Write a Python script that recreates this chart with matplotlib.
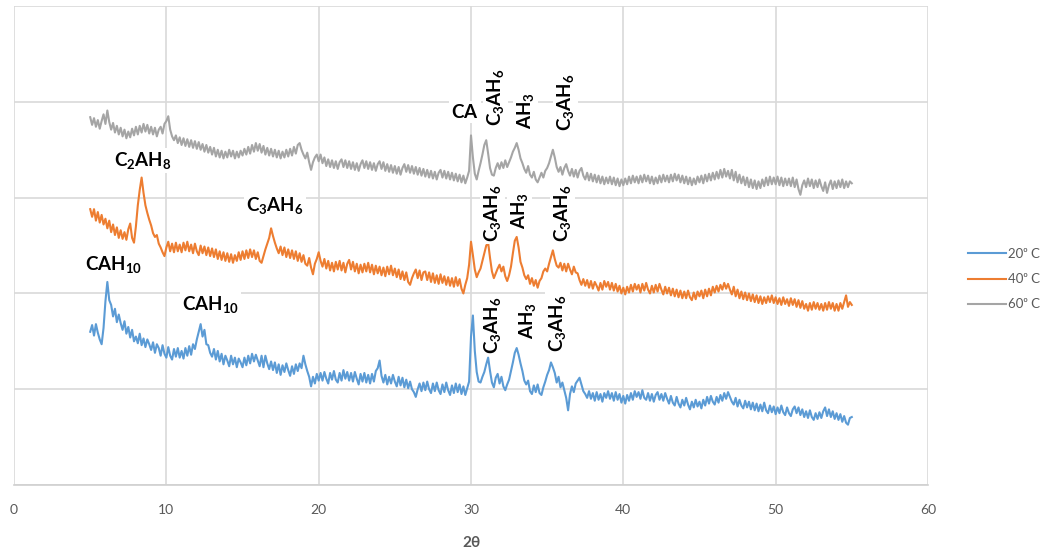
import numpy as np
import matplotlib
matplotlib.use("Agg")
import matplotlib.pyplot as plt

plt.rcParams['font.family'] = ['Lato', 'DejaVu Sans']
plt.rcParams['mathtext.fontset'] = 'custom'
plt.rcParams['mathtext.rm'] = 'Lato:bold'
plt.rcParams['mathtext.it'] = 'Lato:bold'
plt.rcParams['mathtext.bf'] = 'Lato:bold'
plt.rcParams['mathtext.default'] = 'rm'

# XRD scans, 5-55 deg 2theta, 0.125 deg step (16 points per row = 2 deg)
two_theta_start = 5.0
two_theta_end = 55.0

i_20C = [
    1.60, 1.67, 1.56, 1.68, 1.59, 1.52, 1.47, 1.64, 1.92, 2.12, 1.93, 1.88, 1.76, 1.84, 1.70, 1.78,
    1.69, 1.62, 1.71, 1.58, 1.65, 1.54, 1.62, 1.50, 1.55, 1.48, 1.58, 1.46, 1.53, 1.44, 1.52, 1.47,
    1.41, 1.49, 1.38, 1.47, 1.43, 1.35, 1.46, 1.37, 1.33, 1.44, 1.35, 1.31, 1.42, 1.34, 1.43, 1.33,
    1.40, 1.32, 1.43, 1.35, 1.45, 1.36, 1.47, 1.42, 1.52, 1.60, 1.68, 1.55, 1.62, 1.47, 1.46, 1.38,
    1.34, 1.42, 1.31, 1.40, 1.29, 1.37, 1.26, 1.35, 1.30, 1.24, 1.35, 1.26, 1.33, 1.23, 1.32, 1.28,
    1.23, 1.33, 1.25, 1.35, 1.27, 1.37, 1.29, 1.36, 1.30, 1.24, 1.35, 1.23, 1.35, 1.27, 1.21, 1.29,
    1.20, 1.28, 1.17, 1.26, 1.15, 1.25, 1.18, 1.27, 1.20, 1.14, 1.24, 1.16, 1.26, 1.19, 1.27, 1.22,
    1.35, 1.26, 1.19, 1.13, 1.03, 1.13, 1.06, 1.16, 1.09, 1.17, 1.09, 1.18, 1.11, 1.06, 1.17, 1.10,
    1.19, 1.10, 1.07, 1.17, 1.09, 1.20, 1.11, 1.18, 1.09, 1.17, 1.08, 1.18, 1.11, 1.05, 1.16, 1.08,
    1.17, 1.07, 1.15, 1.06, 1.16, 1.08, 1.19, 1.22, 1.30, 1.14, 1.07, 1.15, 1.05, 1.13, 1.06, 1.15,
    1.08, 1.03, 1.13, 1.04, 1.12, 1.02, 1.10, 1.01, 1.08, 1.00, 0.97, 0.92, 1.00, 1.06, 0.98, 1.07,
    0.99, 1.08, 1.00, 0.96, 1.06, 0.98, 1.07, 0.99, 0.95, 1.05, 0.97, 1.07, 0.99, 0.94, 1.04, 0.96,
    1.06, 0.97, 1.05, 0.95, 1.03, 0.94, 1.01, 1.08, 1.55, 1.77, 1.40, 1.18, 1.08, 1.07, 1.13, 1.18,
    1.26, 1.33, 1.19, 1.07, 1.02, 1.12, 1.16, 1.06, 1.13, 1.03, 0.99, 1.05, 1.10, 1.19, 1.28, 1.38,
    1.43, 1.36, 1.27, 1.19, 1.09, 1.05, 1.09, 0.98, 0.95, 1.04, 0.97, 1.05, 0.96, 0.94, 1.02, 1.08,
    1.15, 1.20, 1.28, 1.23, 1.17, 1.07, 1.13, 1.02, 1.07, 0.99, 0.91, 0.78, 0.95, 1.03, 0.97, 1.06,
    1.09, 1.12, 1.05, 0.98, 0.95, 0.91, 0.98, 0.90, 0.96, 0.88, 0.97, 0.89, 0.95, 0.87, 0.96, 0.91,
    0.98, 0.90, 0.96, 0.88, 0.97, 0.89, 0.95, 0.86, 0.93, 0.85, 0.94, 0.88, 0.96, 0.89, 0.98, 0.92,
    0.97, 0.90, 0.99, 0.91, 0.89, 0.96, 0.88, 0.95, 0.87, 0.94, 0.97, 0.89, 0.95, 0.88, 0.96, 0.90,
    0.85, 0.93, 0.86, 0.83, 0.92, 0.85, 0.81, 0.89, 0.83, 0.91, 0.84, 0.79, 0.87, 0.81, 0.89, 0.82,
    0.87, 0.80, 0.89, 0.83, 0.92, 0.85, 0.93, 0.87, 0.84, 0.92, 0.86, 0.94, 0.88, 0.96, 0.90, 0.97,
    0.92, 0.87, 0.84, 0.91, 0.82, 0.89, 0.83, 0.80, 0.88, 0.81, 0.87, 0.79, 0.86, 0.78, 0.85, 0.77,
    0.84, 0.77, 0.86, 0.78, 0.75, 0.83, 0.76, 0.82, 0.74, 0.81, 0.75, 0.83, 0.76, 0.73, 0.81, 0.75,
    0.72, 0.79, 0.82, 0.75, 0.81, 0.73, 0.79, 0.71, 0.77, 0.70, 0.78, 0.71, 0.68, 0.75, 0.69, 0.76,
    0.70, 0.77, 0.81, 0.72, 0.79, 0.71, 0.77, 0.69, 0.75, 0.68, 0.74, 0.66, 0.72, 0.65, 0.63, 0.70,
    0.71,
]

i_40C = [
    2.88, 2.80, 2.88, 2.76, 2.85, 2.74, 2.82, 2.72, 2.78, 2.68, 2.76, 2.64, 2.72, 2.61, 2.69, 2.58,
    2.66, 2.57, 2.64, 2.56, 2.67, 2.73, 2.58, 2.53, 2.70, 2.92, 3.08, 3.21, 3.05, 2.92, 2.84, 2.77,
    2.71, 2.63, 2.59, 2.61, 2.52, 2.48, 2.43, 2.39, 2.48, 2.54, 2.44, 2.52, 2.43, 2.53, 2.44, 2.51,
    2.43, 2.53, 2.45, 2.54, 2.44, 2.51, 2.42, 2.52, 2.44, 2.40, 2.50, 2.42, 2.49, 2.40, 2.48, 2.39,
    2.47, 2.38, 2.46, 2.36, 2.44, 2.35, 2.43, 2.34, 2.42, 2.33, 2.41, 2.32, 2.40, 2.34, 2.43, 2.35,
    2.44, 2.36, 2.45, 2.37, 2.46, 2.38, 2.45, 2.36, 2.43, 2.34, 2.32, 2.39, 2.46, 2.52, 2.58, 2.68,
    2.60, 2.53, 2.47, 2.42, 2.49, 2.40, 2.48, 2.38, 2.46, 2.37, 2.45, 2.36, 2.44, 2.34, 2.42, 2.33,
    2.40, 2.31, 2.29, 2.37, 2.27, 2.20, 2.31, 2.36, 2.43, 2.34, 2.28, 2.36, 2.26, 2.34, 2.24, 2.32,
    2.23, 2.33, 2.25, 2.34, 2.24, 2.32, 2.22, 2.31, 2.35, 2.25, 2.33, 2.23, 2.31, 2.21, 2.30, 2.22,
    2.31, 2.23, 2.32, 2.22, 2.30, 2.20, 2.29, 2.21, 2.28, 2.19, 2.27, 2.18, 2.28, 2.20, 2.29, 2.19,
    2.26, 2.17, 2.25, 2.15, 2.23, 2.14, 2.22, 2.12, 2.09, 2.16, 2.21, 2.25, 2.16, 2.24, 2.14, 2.22,
    2.23, 2.14, 2.22, 2.12, 2.21, 2.11, 2.19, 2.10, 2.20, 2.11, 2.18, 2.09, 2.17, 2.08, 2.16, 2.07,
    2.17, 2.08, 2.15, 2.05, 2.00, 2.09, 2.16, 2.30, 2.54, 2.40, 2.25, 2.17, 2.22, 2.26, 2.34, 2.42,
    2.50, 2.53, 2.37, 2.23, 2.16, 2.21, 2.26, 2.30, 2.23, 2.28, 2.18, 2.13, 2.19, 2.28, 2.42, 2.55,
    2.59, 2.48, 2.33, 2.27, 2.19, 2.15, 2.19, 2.10, 2.16, 2.08, 2.14, 2.06, 2.13, 2.16, 2.23, 2.26,
    2.23, 2.31, 2.38, 2.45, 2.36, 2.29, 2.27, 2.32, 2.24, 2.31, 2.23, 2.31, 2.25, 2.20, 2.28, 2.22,
    2.21, 2.14, 2.09, 2.15, 2.08, 2.14, 2.06, 2.13, 2.05, 2.12, 2.08, 2.03, 2.11, 2.04, 2.13, 2.07,
    2.12, 2.04, 2.11, 2.03, 2.10, 2.02, 2.08, 2.00, 2.06, 1.99, 2.07, 2.01, 2.09, 2.02, 2.10, 2.04,
    2.09, 2.01, 2.10, 2.03, 2.11, 2.04, 2.00, 2.08, 2.01, 2.09, 2.02, 2.10, 2.04, 1.99, 2.07, 2.00,
    2.06, 1.98, 2.05, 1.97, 2.04, 1.96, 2.03, 1.95, 2.02, 1.95, 2.03, 1.96, 1.93, 2.01, 1.94, 2.02,
    1.97, 2.03, 1.95, 2.04, 1.97, 2.05, 1.98, 2.07, 2.01, 2.08, 2.02, 2.09, 2.04, 2.11, 2.05, 2.10,
    2.04, 1.99, 2.07, 1.97, 2.04, 1.95, 2.02, 1.94, 2.01, 1.93, 2.00, 1.92, 1.99, 1.91, 1.98, 1.90,
    1.97, 1.89, 1.96, 1.90, 1.97, 1.91, 1.98, 1.90, 1.96, 1.89, 1.95, 1.88, 1.96, 1.89, 1.94, 1.87,
    1.95, 1.88, 1.94, 1.86, 1.93, 1.85, 1.92, 1.84, 1.89, 1.82, 1.90, 1.83, 1.91, 1.84, 1.90, 1.83,
    1.89, 1.82, 1.90, 1.83, 1.91, 1.84, 1.90, 1.82, 1.89, 1.82, 1.90, 1.84, 1.91, 1.98, 1.86, 1.91,
    1.88,
]

i_60C = [
    3.84, 3.76, 3.83, 3.74, 3.81, 3.72, 3.80, 3.87, 3.77, 3.91, 3.79, 3.71, 3.78, 3.68, 3.75, 3.66,
    3.73, 3.64, 3.71, 3.62, 3.69, 3.63, 3.72, 3.65, 3.74, 3.66, 3.75, 3.68, 3.77, 3.69, 3.76, 3.67,
    3.74, 3.66, 3.73, 3.64, 3.71, 3.74, 3.67, 3.77, 3.80, 3.85, 3.71, 3.64, 3.60, 3.65, 3.57, 3.63,
    3.55, 3.62, 3.54, 3.61, 3.53, 3.60, 3.52, 3.59, 3.51, 3.58, 3.50, 3.56, 3.48, 3.55, 3.47, 3.53,
    3.45, 3.52, 3.43, 3.50, 3.42, 3.49, 3.41, 3.48, 3.42, 3.50, 3.43, 3.49, 3.41, 3.48, 3.42, 3.49,
    3.44, 3.51, 3.45, 3.53, 3.46, 3.55, 3.48, 3.57, 3.49, 3.56, 3.47, 3.54, 3.45, 3.52, 3.44, 3.51,
    3.43, 3.50, 3.42, 3.49, 3.41, 3.48, 3.42, 3.50, 3.43, 3.51, 3.44, 3.53, 3.46, 3.55, 3.57, 3.50,
    3.45, 3.41, 3.47, 3.37, 3.29, 3.37, 3.42, 3.45, 3.38, 3.45, 3.36, 3.42, 3.33, 3.40, 3.32, 3.39,
    3.31, 3.38, 3.30, 3.37, 3.40, 3.32, 3.39, 3.31, 3.38, 3.30, 3.37, 3.29, 3.36, 3.28, 3.35, 3.39,
    3.31, 3.38, 3.30, 3.37, 3.29, 3.36, 3.28, 3.35, 3.38, 3.30, 3.37, 3.28, 3.35, 3.27, 3.34, 3.26,
    3.33, 3.25, 3.32, 3.24, 3.31, 3.35, 3.27, 3.34, 3.26, 3.33, 3.25, 3.32, 3.24, 3.31, 3.23, 3.30,
    3.22, 3.29, 3.21, 3.28, 3.20, 3.27, 3.19, 3.26, 3.29, 3.21, 3.28, 3.20, 3.27, 3.19, 3.26, 3.18,
    3.25, 3.17, 3.24, 3.16, 3.23, 3.15, 3.21, 3.28, 3.65, 3.42, 3.25, 3.19, 3.28, 3.36, 3.45, 3.55,
    3.60, 3.46, 3.31, 3.24, 3.23, 3.31, 3.36, 3.30, 3.37, 3.31, 3.39, 3.32, 3.37, 3.42, 3.48, 3.52,
    3.57, 3.50, 3.41, 3.36, 3.30, 3.26, 3.33, 3.24, 3.21, 3.27, 3.19, 3.16, 3.21, 3.26, 3.21, 3.28,
    3.31, 3.36, 3.43, 3.50, 3.42, 3.32, 3.27, 3.32, 3.24, 3.31, 3.35, 3.28, 3.23, 3.30, 3.22, 3.29,
    3.21, 3.28, 3.31, 3.23, 3.19, 3.26, 3.18, 3.25, 3.17, 3.24, 3.16, 3.23, 3.15, 3.22, 3.14, 3.21,
    3.15, 3.22, 3.14, 3.21, 3.13, 3.20, 3.12, 3.19, 3.13, 3.20, 3.14, 3.22, 3.15, 3.23, 3.16, 3.22,
    3.15, 3.23, 3.16, 3.24, 3.17, 3.23, 3.15, 3.22, 3.14, 3.21, 3.15, 3.23, 3.16, 3.24, 3.17, 3.23,
    3.16, 3.24, 3.17, 3.25, 3.18, 3.24, 3.16, 3.23, 3.15, 3.22, 3.14, 3.21, 3.13, 3.20, 3.14, 3.22,
    3.16, 3.23, 3.15, 3.24, 3.17, 3.25, 3.18, 3.26, 3.19, 3.27, 3.20, 3.29, 3.21, 3.30, 3.22, 3.28,
    3.20, 3.29, 3.18, 3.27, 3.16, 3.24, 3.15, 3.22, 3.13, 3.21, 3.11, 3.19, 3.10, 3.18, 3.09, 3.17,
    3.10, 3.19, 3.12, 3.21, 3.13, 3.22, 3.14, 3.21, 3.14, 3.22, 3.13, 3.21, 3.12, 3.20, 3.13, 3.20,
    3.12, 3.21, 3.11, 3.19, 3.09, 3.03, 3.13, 3.18, 3.11, 3.20, 3.12, 3.19, 3.10, 3.18, 3.11, 3.19,
    3.12, 3.07, 3.16, 3.05, 3.13, 3.18, 3.09, 3.17, 3.10, 3.18, 3.11, 3.19, 3.10, 3.17, 3.11, 3.17,
    3.15,
]

series_names = ["20\u2070 C", "40\u2070 C", "60\u2070 C"]
series_colors = ["#5B9BD5", "#ED7D31", "#A5A5A5"]

# phase labels: (text, 2theta, intensity, rotation)
phase_labels = [
    (r"$CA$", 29.6, 3.89, 0),
    (r"$C_3AH_6$", 31.6, 4.05, 90),
    (r"$AH_3$", 33.55, 3.91, 90),
    (r"$C_3AH_6$", 36.2, 4.00, 90),
    (r"$C_2AH_8$", 8.47, 3.39, 0),
    (r"$C_3AH_6$", 17.14, 2.92, 0),
    (r"$C_3AH_6$", 31.4, 2.84, 90),
    (r"$AH_3$", 33.2, 2.87, 90),
    (r"$C_3AH_6$", 36.0, 2.84, 90),
    (r"$CAH_{10}$", 6.5, 2.30, 0),
    (r"$CAH_{10}$", 12.87, 1.88, 0),
    (r"$C_3AH_6$", 31.4, 1.67, 90),
    (r"$AH_3$", 33.7, 1.72, 90),
    (r"$C_3AH_6$", 35.7, 1.69, 90),
]

fig = plt.figure(figsize=(10.41, 5.54), dpi=100)
ax = fig.add_axes([0.0135, 0.1245, 0.8779, 0.8645])

for vals, name, col in zip([i_20C, i_40C, i_60C], series_names, series_colors):
    assert len(vals) == 401
    tt = np.linspace(two_theta_start, two_theta_end, len(vals))
    ax.plot(tt, vals, color=col, lw=1.5, label=name, zorder=3)

for txt, x, y, rot in phase_labels:
    ax.text(x, y, txt, rotation=rot, ha="center", va="center", fontsize=13.5,
            color="black", zorder=4,
            bbox=dict(facecolor="white", edgecolor="none", pad=1.5))

ax.set_xlim(0, 60)
ax.set_ylim(0, 5)
ax.set_xticks(range(0, 61, 10))
ax.set_yticks(range(0, 6))
ax.set_yticklabels([])
ax.grid(True, color="#D9D9D9", lw=1.2, zorder=0)
ax.set_axisbelow(True)
for s in ["top", "right", "left"]:
    ax.spines[s].set_visible(False)
ax.spines["bottom"].set_color("#D0D0D0")
ax.spines["bottom"].set_linewidth(1.2)
ax.tick_params(axis="both", length=0, labelsize=10, labelcolor="#595959", pad=14)
ax.set_xlabel("2θ", fontsize=11, color="#595959", fontweight="bold", labelpad=14)

fig.legend(loc="center left", bbox_to_anchor=(0.918, 0.496), frameon=False,
           fontsize=9.5, labelcolor="#595959", handlelength=2.9,
           handletextpad=0.15, labelspacing=1.0)

fig.savefig("out.png", dpi=100)
